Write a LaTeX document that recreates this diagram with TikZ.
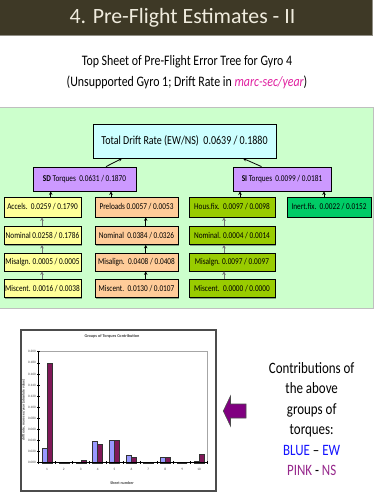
\documentclass[tikz,border=0pt]{standalone}
\usepackage{fontspec}
\setmainfont{Carlito}
\newfontfamily\cond[FakeStretch=0.82]{Carlito}
\usetikzlibrary{arrows.meta,shadows}
\definecolor{titlebar}{RGB}{62,57,38}
\definecolor{titletext}{RGB}{240,236,222}
\definecolor{panelgreen}{RGB}{204,255,204}
\definecolor{topfill}{RGB}{204,255,255}
\definecolor{torqfill}{RGB}{204,153,255}
\definecolor{yelfill}{RGB}{255,255,153}
\definecolor{peachfill}{RGB}{255,204,153}
\definecolor{olivefill}{RGB}{153,204,0}
\definecolor{inertfill}{RGB}{0,204,102}
\definecolor{magtext}{RGB}{224,32,160}
\definecolor{barblue}{RGB}{153,153,255}
\definecolor{barpurple}{RGB}{128,24,88}
\definecolor{arrpurple}{RGB}{128,0,128}
\definecolor{bluetxt}{RGB}{20,20,255}
\definecolor{pinktxt}{RGB}{150,40,140}
\begin{document}
\begin{tikzpicture}[x=1pt,y=-1pt,
  tbox/.style={draw=black, line width=0.8pt, inner sep=0pt, minimum height=18pt,
     font=\cond\fontsize{8.9}{10}\selectfont,
     drop shadow={shadow xshift=1pt, shadow yshift=-1pt, fill=black, opacity=0.35}},
  arr/.style={line width=0.8pt, -{Stealth[length=3.5pt,width=3.5pt]}},
  garr/.style={arr, draw=black!55},
  axlab/.style={font=\fontsize{3.4}{3.5}\selectfont, text=black!75, inner sep=0.5pt},
  rtxt/.style={font=\cond\fontsize{15.8}{20.5}\selectfont, align=center}]
\useasboundingbox (0,0) rectangle (375,500);
\fill[white] (0,0) rectangle (375,500);
% title bar
\filldraw[fill=titlebar, draw=black!40!titletext, line width=0.8pt] (-1,-1) rectangle (372,35);
\node[text=titletext, font=\fontsize{21.8}{26}\selectfont] (title) at (182.5,18) {4. Pre-Flight Estimates - II};
% subtitle
\node[font=\cond\fontsize{14.5}{21}\selectfont, align=center] (sub) at (187,72)
  {Top Sheet of Pre-Flight Error Tree for Gyro 4\\(Unsupported Gyro 1; Drift Rate in \textcolor{magtext}{\itshape marc-sec/year})};
% green panel
\filldraw[fill=panelgreen, draw=black!25, line width=0.8pt] (-1,107) rectangle (373,308);
% tree
\node[tbox, fill=topfill, minimum width=183pt, minimum height=34pt, font=\cond\fontsize{12.2}{13}\selectfont] (top) at (184.5,141) {Total Drift Rate (EW/NS)\ \ 0.0639 / 0.1880};
\node[tbox, fill=torqfill, minimum width=103pt, minimum height=24pt] (sd) at (84.5,179) {\textbf{SD} Torques\ \ 0.0631 / 0.1870};
\node[tbox, fill=torqfill, minimum width=98pt, minimum height=24pt] (si) at (282,179) {\textbf{SI} Torques\ \ 0.0099 / 0.0181};
% column A
\node[tbox, fill=yelfill, minimum width=77pt, minimum height=20pt] (acc) at (42.5,207) {Accels.\ \ 0.0259 / 0.1790};
\node[tbox, fill=yelfill, minimum width=77pt] (nomA) at (42.5,235.5) {Nominal 0.0258 / 0.1786};
\node[tbox, fill=yelfill, minimum width=77pt] (misA) at (42.5,262) {Misalgn. 0.0005 / 0.0005};
\node[tbox, fill=yelfill, minimum width=77pt] (mcA) at (42.5,288.5) {Miscent. 0.0016 / 0.0038};
% column P
\node[tbox, fill=peachfill, minimum width=83pt, minimum height=20pt] (pre) at (136.5,207) {Preloads 0.0057 / 0.0053};
\node[tbox, fill=peachfill, minimum width=83pt] (nomP) at (136.5,235.5) {Nominal\ \ 0.0384 / 0.0326};
\node[tbox, fill=peachfill, minimum width=83pt] (misP) at (136.5,262) {Misalign.\ \ 0.0408 / 0.0408};
\node[tbox, fill=peachfill, minimum width=83pt] (mcP) at (136.5,288.5) {Miscent.\ \ 0.0130 / 0.0107};
% column H
\node[tbox, fill=olivefill, minimum width=86pt, minimum height=20pt] (hous) at (232,207) {Hous.fix.\ \ 0.0097 / 0.0098};
\node[tbox, fill=olivefill, minimum width=86pt] (nomH) at (232,235.5) {Nominal. 0.0004 / 0.0014};
\node[tbox, fill=olivefill, minimum width=86pt] (misH) at (232,262) {Misalgn. 0.0097 / 0.0097};
\node[tbox, fill=olivefill, minimum width=86pt] (mcH) at (232,288.5) {Miscent.\ \ 0.0000 / 0.0000};
% column I
\node[tbox, fill=inertfill, minimum width=84pt, minimum height=20pt] (inert) at (329,207) {Inert.fix.\ \ 0.0022 / 0.0152};
% connectors
\draw[arr] (sd.north -| 106,0) -- (top.south -| 122,0);
\draw[arr] (si.north -| 261.5,0) -- (top.south -| 243,0);
\draw[arr] (acc.north -| 50.7,0) -- (sd.south -| 50.7,0);
\draw[arr] (pre.north -| 111,0) -- (sd.south -| 111,0);
\draw[arr] (hous.north -| 240,0) -- (si.south -| 240,0);
\draw[arr] (inert.north -| 324,0) -- (si.south -| 324,0);
\draw[garr] (nomA.north -| 42,0) -- (acc.south -| 42,0);
\draw[garr] (misA.north -| 42,0) -- (nomA.south -| 42,0);
\draw[garr] (mcA.north -| 42,0) -- (misA.south -| 42,0);
\draw[arr] (nomP.north -| 145.7,0) -- (pre.south -| 145.7,0);
\draw[arr] (misP.north -| 145.7,0) -- (nomP.south -| 145.7,0);
\draw[arr] (mcP.north -| 145.7,0) -- (misP.south -| 145.7,0);
\draw[garr] (nomH.north -| 224,0) -- (hous.south -| 224,0);
\draw[garr] (misH.north -| 224,0) -- (nomH.south -| 224,0);
\draw[garr] (mcH.north -| 224,0) -- (misH.south -| 224,0);
% chart
\filldraw[fill=white, draw=black!70, line width=1.5pt] (21,330) rectangle (216,491);
\node[font=\bfseries\fontsize{4.2}{5}\selectfont, text=black!75] (ctitle) at (112,336) {Groups of Torques Contribution};
\draw[black!35, line width=0.6pt] (38.5,351.7) -- (207.5,351.7) -- (207.5,462.7);
\foreach \i/\e/\n in {1/0.0259/0.1790, 2/0.0005/0.0005, 3/0.0016/0.0038, 4/0.0384/0.0326, 5/0.0408/0.0408, 6/0.0130/0.0107, 7/0.0004/0.0014, 8/0.0097/0.0097, 9/0.0/0.0, 10/0.0022/0.0152} {
  \pgfmathsetmacro\cx{38.5+8.45+16.9*(\i-1)}
  \pgfmathsetmacro\ye{462.7-\e*555}
  \pgfmathsetmacro\yn{462.7-\n*555}
  \filldraw[fill=barblue, draw=black!80, line width=0.35pt] (\cx-5,462.7) rectangle (\cx,\ye);
  \filldraw[fill=barpurple, draw=black!80, line width=0.35pt] (\cx,462.7) rectangle (\cx+5,\yn);
  \node[axlab] at (\cx,469) {\i};
}
\draw[black, line width=0.7pt] (38.5,351.7) -- (38.5,462.7) -- (207.5,462.7);
\foreach \k/\lab in {0/0.000,1/0.020,2/0.040,3/0.060,4/0.080,5/0.100,6/0.120,7/0.140,8/0.160,9/0.180,10/0.200} {
  \pgfmathsetmacro\yy{462.7-11.1*\k}
  \draw[black, line width=0.5pt] (37,\yy) -- (40,\yy);
  \node[axlab, anchor=east] at (36.5,\yy) {\lab};
}
\foreach \k in {0,...,10} {
  \draw[black, line width=0.5pt] (38.5+16.9*\k,461) -- (38.5+16.9*\k,464.2);
}
\node[font=\bfseries\fontsize{4}{5}\selectfont, text=black!75] (xt) at (122,483) {Sheet number};
\node[font=\bfseries\fontsize{3.6}{4}\selectfont, text=black!75, rotate=90] (yt) at (23.5,410) {drift rate, marc-sec/year (absolute value)};
% purple arrow
\filldraw[fill=arrpurple, draw=black!70, line width=0.6pt] (223.3,411) -- (230.5,396) -- (230.5,404) -- (246,404) -- (246,418) -- (230.5,418) -- (230.5,426) -- cycle;
% right text
\node[rtxt] (rt) at (311.7,419) {Contributions of\\the above\\groups of\\torques:\\\textcolor{bluetxt}{BLUE} \textendash{} \textcolor{bluetxt}{EW}\\\textcolor{pinktxt}{PINK} - \textcolor{pinktxt}{NS}};
\end{tikzpicture}
\end{document}
